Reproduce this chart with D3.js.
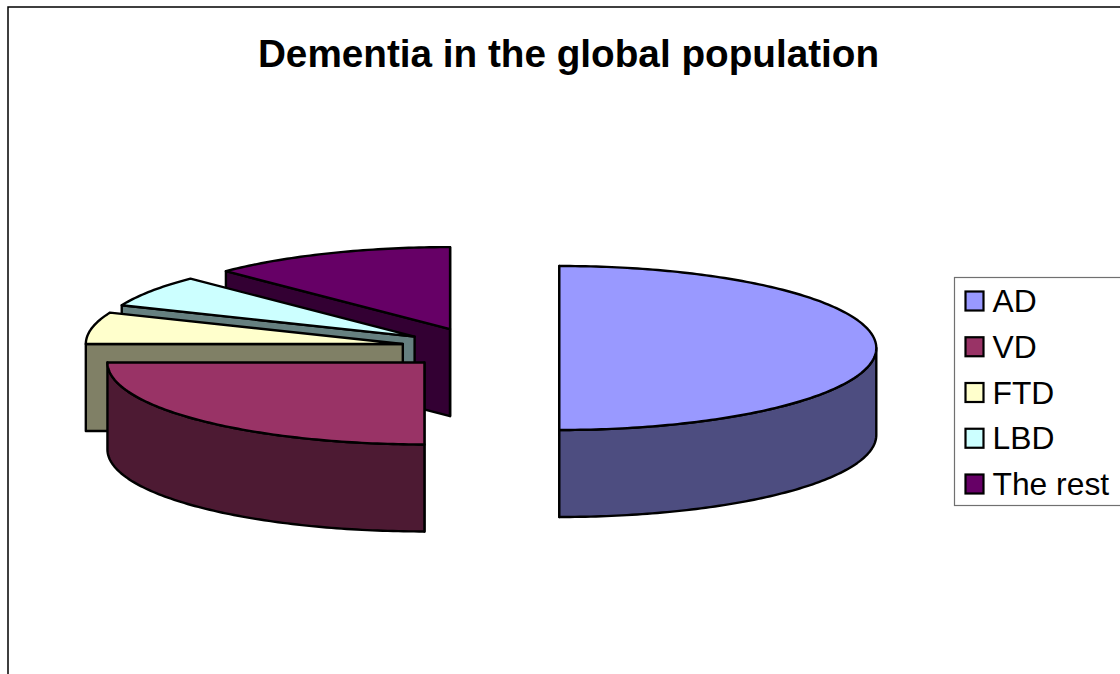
<!DOCTYPE html>
<html>
<head>
<meta charset="utf-8">
<title>Dementia in the global population</title>
<script src="https://cdn.jsdelivr.net/npm/d3@7"></script>
<style>
  html, body { margin: 0; padding: 0; background: #fff; overflow: hidden; }
  svg { display: block; font-family: "Liberation Sans", Arial, sans-serif; }
</style>
</head>
<body>
<svg id="chart" width="1120" height="674"></svg>
<script>
// Chart content
const chartTitle = "Dementia in the global population";
const categories = ["AD", "VD", "FTD", "LBD", "The rest"];
const shares = [50, 25, 6.25, 6.25, 12.5];
const topColors = ["#9999ff", "#993366", "#ffffcc", "#ccffff", "#660066"];
const wallColors = ["#4d4d80", "#4d1a33", "#808066", "#668080", "#330033"];

// Tilted-disc geometry of the exploded pie
const baseX = 480.3, baseY = 348;
const radiusX = 317, radiusY = 82, depth = 87, explode = 79;

const svg = d3.select("#chart");
const outline = "#000";

// Outer chart frame, running past the right and bottom edges of the page
svg.append("path")
  .attr("d", "M8,680V7H1130")
  .attr("fill", "none")
  .attr("stroke", outline)
  .attr("stroke-width", 1.5);

svg.append("text")
  .attr("x", 568.5)
  .attr("y", 67)
  .attr("text-anchor", "middle")
  .attr("font-size", 38.7)
  .attr("font-weight", "bold")
  .text(chartTitle);

const slices = d3.pie().sort(null).value(d => d)(shares)
  .map((s, i) => {
    const mid = (s.startAngle + s.endAngle) / 2;
    return {
      ...s,
      index: i,
      cx: baseX + explode * Math.sin(mid),
      cy: baseY - explode * Math.cos(mid) * radiusY / radiusX
    };
  });

const lineGen = d3.line();

// Point on a slice's rim, lifted or dropped by `drop` pixels
const rimPoint = (s, a, drop = 0) => [
  s.cx + radiusX * Math.sin(a),
  s.cy - radiusY * Math.cos(a) + drop
];

const arcPoints = (s, a0, a1, drop = 0) => {
  const n = Math.max(2, Math.ceil(Math.abs(a1 - a0) * 60));
  return d3.range(n + 1).map(k => rimPoint(s, a0 + (a1 - a0) * k / n, drop));
};

const drawShape = (g, points, fill) => g.append("path")
  .attr("d", lineGen(points) + "Z")
  .attr("fill", fill)
  .attr("stroke", outline)
  .attr("stroke-width", 2.4)
  .attr("stroke-linejoin", "round");

// Paint from the back of the pie to the front
const paintOrder = [4, 3, 2, 1, 0];
paintOrder.forEach(i => {
  const s = slices[i];
  const g = svg.append("g").attr("class", "slice");
  const apex = [s.cx, s.cy];
  const apexLow = [s.cx, s.cy + depth];
  const wall = wallColors[i];

  // Radial cut faces
  drawShape(g, [apex, rimPoint(s, s.startAngle), rimPoint(s, s.startAngle, depth), apexLow], wall);
  const sinEnd = Math.sin(s.endAngle);
  if (sinEnd > 0 || Math.abs(sinEnd) < 1e-6) {
    drawShape(g, [apex, rimPoint(s, s.endAngle), rimPoint(s, s.endAngle, depth), apexLow], wall);
  }

  // Curved outer wall, only on the front half of the disc
  const from = Math.max(s.startAngle, Math.PI / 2);
  const to = Math.min(s.endAngle, 3 * Math.PI / 2);
  if (to > from) {
    drawShape(g, [...arcPoints(s, from, to), ...arcPoints(s, to, from, depth)], wall);
  }

  // Top face
  drawShape(g, [apex, ...arcPoints(s, s.startAngle, s.endAngle)], topColors[i]);
});

// Legend
const legend = svg.append("g").attr("class", "legend");
legend.append("rect")
  .attr("x", 954.5).attr("y", 277.5)
  .attr("width", 200).attr("height", 228)
  .attr("fill", "#fff")
  .attr("stroke", "#707070")
  .attr("stroke-width", 1.2);

const legendY = d3.scalePoint().domain(categories).range([301, 484]);

categories.forEach((c, i) => {
  const y = legendY(c);
  legend.append("rect")
    .attr("x", 965.5).attr("y", y - 9.5)
    .attr("width", 18).attr("height", 19)
    .attr("fill", topColors[i])
    .attr("stroke", outline)
    .attr("stroke-width", 2.2);
  legend.append("text")
    .attr("x", 992.5)
    .attr("y", y + 11)
    .attr("font-size", 31.8)
    .attr("fill", "#000")
    .text(c);
});
</script>
</body>
</html>
